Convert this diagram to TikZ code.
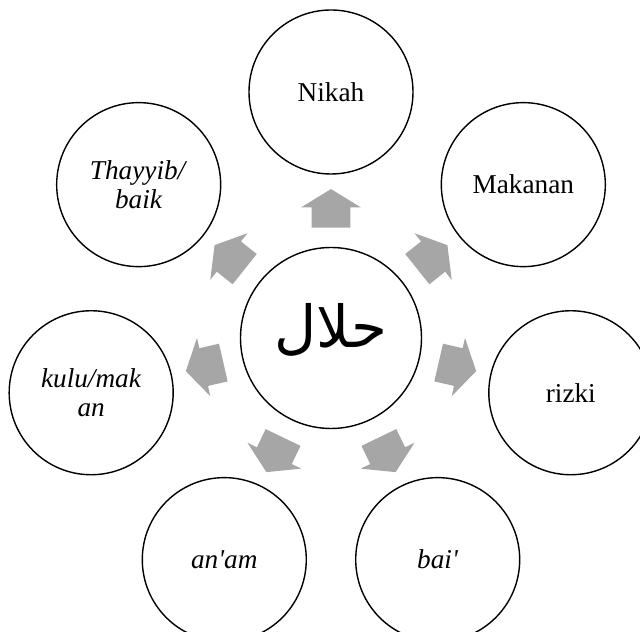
\documentclass[tikz,border=0pt]{standalone}
\usepackage{fontspec}
\setmainfont{Liberation Serif}
\newfontfamily\arabicfont[Script=Arabic]{DejaVu Sans}
\TeXXeTstate=1
\usetikzlibrary{shapes.arrows,calc}
\definecolor{arrowgray}{RGB}{166,166,166}
\tikzset{
  ring/.style={circle, draw, line width=0.8pt, minimum size=3.28cm, inner sep=0pt, align=center, font=\fontsize{15.5}{17}\selectfont},
  spoke/.style={single arrow, fill=arrowgray, draw=none, inner xsep=0pt, inner ysep=0.38cm,
    minimum height=0.77cm, single arrow head extend=0.21cm,
    single arrow tip angle=117, single arrow head indent=0pt}
}

\begin{document}
\begin{tikzpicture}[x=0.2mm, y=0.2mm]
\useasboundingbox (-331,-294) rectangle (309,338);
\clip (-331,-294) rectangle (309,338);
\node[ring, minimum size=3.62cm] (hal) at (0,0) {\raisebox{-0.2cm}[0pt][0pt]{\arabicfont\fontsize{33}{33}\selectfont\beginR حلال\endR}};
\foreach \a/\l [count=\i] in {90/{Nikah}, 38.57/{Makanan}, -12.86/{rizki}, -64.29/{\textit{bai\textquotesingle}},
    -115.71/{\textit{an\textquotesingle am}}, -167.14/{\textit{kulu/mak}\\\textit{an}}, 141.43/{\textit{Thayyib/}\\\textit{baik}}} {
  \node[ring] (o\i) at (\a:246) {\l};
  \node[spoke, rotate=\a] (s\i) at ($(hal)!0.503!(o\i)$) {};
}
\end{tikzpicture}
\end{document}
